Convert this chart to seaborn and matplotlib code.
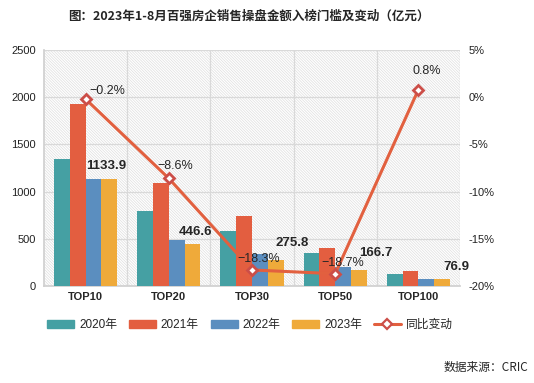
import matplotlib
matplotlib.use("Agg")
import matplotlib.pyplot as plt
import seaborn as sns
import pandas as pd
import numpy as np
from matplotlib.patches import Rectangle, Patch
from matplotlib.lines import Line2D

categories = ["TOP10", "TOP20", "TOP30", "TOP50", "TOP100"]
years = ["2020年", "2021年", "2022年", "2023年"]
v2020 = [1345, 794, 583, 350, 127]
v2021 = [1928, 1091, 741, 403, 159]
v2022 = [1136, 488.6, 337.6, 205, 76.3]
v2023 = [1133.9, 446.6, 275.8, 166.7, 76.9]
yoy = [-0.2, -8.6, -18.3, -18.7, 0.8]
yoy_labels = ["\u22120.2%", "\u22128.6%", "\u221218.3%", "\u221218.7%", "0.8%"]
line_name = "同比变动"
title = "图：2023年1-8月百强房企销售操盘金额入榜门槛及变动（亿元）"
source = "数据来源：CRIC"

colors = ["#45A0A3", "#E35E40", "#5B8EBF", "#EFAA3A"]
line_color = "#E2603F"

# label placement offsets (pixels) - styling only
bar_lab_dx = [-3, 3, 16, 17, 14]
bar_lab_dy = [13, 12, 17, 17, 12]
line_lab_dx = [22, 6, 7, 8, 8]
line_lab_dy = [8, 12, 11, 11, 19]

sns.set_theme(style="white")
plt.rcParams['font.family'] = ['Liberation Sans', 'Noto Sans CJK SC', 'DejaVu Sans']
plt.rcParams['hatch.linewidth'] = 0.5
plt.rcParams['hatch.color'] = '#dedede'

rows = []
for y, vals in zip(years, [v2020, v2021, v2022, v2023]):
    for c, v in zip(categories, vals):
        rows.append({"cat": c, "year": y, "value": v})
df = pd.DataFrame(rows)

fig = plt.figure(figsize=(5.34, 3.83), dpi=100)
ax = fig.add_axes([44/534, 1-286/383, 416/534, 236/383])

ax.add_patch(Rectangle((0, 0), 1, 1, transform=ax.transAxes, facecolor='white',
                       edgecolor='#dedede', hatch='\\' * 12, linewidth=0, zorder=0))

sns.barplot(data=df, x="cat", y="value", hue="year", palette=colors, width=0.76,
            saturation=1, ax=ax, legend=False, zorder=3, linewidth=0)

ax.set_xlim(-0.5, 4.5)
ax.set_ylim(0, 2500)
ax.set_yticks(np.arange(0, 2501, 500))
ax.set_xlabel("")
ax.set_ylabel("")
for yv in np.arange(500, 2501, 500):
    ax.axhline(yv, color='#d9d9d9', lw=0.9, zorder=1)
for xv in np.arange(0.5, 4.6, 1.0):
    ax.axvline(xv, color='#d9d9d9', lw=0.9, zorder=1)
for s in ["top", "right"]:
    ax.spines[s].set_visible(False)
ax.spines["left"].set_color('#d0d0d0')
ax.spines["bottom"].set_color('#d0d0d0')
ax.tick_params(axis='y', labelsize=8, length=0, pad=6, colors='#222222')
ax.tick_params(axis='x', labelsize=8, length=0, pad=4)
for t in ax.get_xticklabels():
    t.set_fontweight('bold')

px = 416 / 5.0
py_val = 236 / 2500
bw = 0.76 / 4
for i, v in enumerate(v2023):
    x = i + 1.5 * bw + bar_lab_dx[i] / px
    ax.text(x, v + bar_lab_dy[i] / py_val, f"{v:.1f}", ha='center', va='center',
            fontsize=9.5, fontweight='bold', zorder=6)

ax2 = ax.twinx()
ax2.set_position(ax.get_position())
sns.lineplot(x=np.arange(len(categories)), y=yoy, ax=ax2, color=line_color, lw=2.2,
             marker='D', markersize=5.5, markerfacecolor='white', markeredgecolor='#CC4E48',
             markeredgewidth=2.0, zorder=5)
ax2.set_ylim(-20, 5)
ax2.set_yticks(np.arange(-20, 6, 5))
ax2.set_yticklabels([f"{t}%" for t in np.arange(-20, 6, 5)])
ax2.tick_params(axis='y', labelsize=8, length=0, pad=6, colors='#222222')
for s in ax2.spines.values():
    s.set_visible(False)
ax2.set_xlim(-0.5, 4.5)
py_pct = 236 / 25
for i, (v, lab) in enumerate(zip(yoy, yoy_labels)):
    ax2.text(i + line_lab_dx[i] / px, v + line_lab_dy[i] / py_pct, lab, ha='center',
             va='center', fontsize=9, zorder=6)

handles = [Patch(color=c) for c in colors] + [
    Line2D([0], [0], color=line_color, lw=2.2, marker='D', markersize=5,
           markerfacecolor='white', markeredgecolor='#CC4E48', markeredgewidth=1.6)]
fig.legend(handles, years + [line_name], loc='center', bbox_to_anchor=(250/534, 1-325/383),
           ncol=5, frameon=False, fontsize=8.5, handlelength=2.3, handleheight=0.7,
           columnspacing=1.0, handletextpad=0.4)

fig.text(249/534, 1-16/383, title, ha='center', va='center', fontsize=9, fontweight='bold',
         family=['Noto Sans CJK SC', 'DejaVu Sans'])
fig.text(528/534, 1-367/383, source, ha='right', va='center', fontsize=8.5,
         family=['Noto Sans CJK SC', 'DejaVu Sans'])

fig.savefig("out.png", dpi=100)
